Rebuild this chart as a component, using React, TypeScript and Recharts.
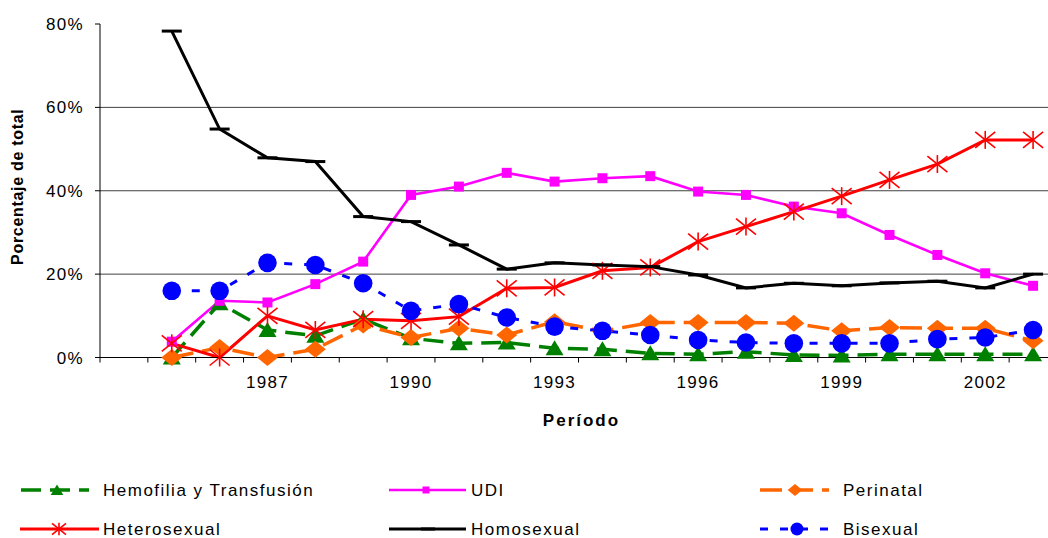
import React from 'react';
import { LineChart, Line, XAxis, YAxis, ReferenceLine } from 'recharts';

// first category on the axis is empty, data starts in 1985
const firstYear = 1984;
const years = [1985, 1986, 1987, 1988, 1989, 1990, 1991, 1992, 1993, 1994, 1995, 1996, 1997, 1998, 1999, 2000, 2001, 2002, 2003];
const labelYears = [1987, 1990, 1993, 1996, 1999, 2002];
const yTicks = [0, 20, 40, 60, 80];
const gridValues = [20, 40, 60];

const hemofilia = [0, 13.0, 6.6, 5.2, 9.2, 4.6, 3.4, 3.6, 2.2, 2.0, 1.0, 0.8, 1.4, 0.6, 0.5, 0.8, 0.8, 0.8, 0.8];
const udi = [3.8, 13.6, 13.2, 17.6, 23.0, 39.0, 41.0, 44.3, 42.2, 43.0, 43.5, 39.8, 39.0, 36.2, 34.6, 29.4, 24.6, 20.2, 17.2];
const perinatal = [0, 2.4, 0, 2.0, 7.8, 4.8, 7.0, 5.4, 8.6, 6.3, 8.4, 8.4, 8.4, 8.2, 6.4, 7.2, 7.0, 7.0, 4.0];
const heterosexual = [3.4, 0, 10.0, 6.6, 9.2, 8.8, 9.8, 16.6, 16.8, 20.8, 21.6, 27.8, 31.4, 35.0, 38.7, 42.6, 46.4, 52.2, 52.2];
const homosexual = [78.3, 54.8, 47.9, 47.0, 33.8, 32.6, 27.0, 21.2, 22.7, 22.2, 21.8, 19.8, 16.7, 17.8, 17.2, 17.9, 18.3, 16.7, 20.0];
const bisexual = [16.0, 16.0, 22.7, 22.2, 17.8, 11.2, 12.8, 9.6, 7.4, 6.4, 5.4, 4.2, 3.6, 3.4, 3.4, 3.4, 4.4, 4.8, 6.6];

const GREEN = '#008000';
const MAGENTA = '#FF00FF';
const ORANGE = '#FF6600';
const RED = '#FF0000';
const BLACK = '#000000';
const BLUE = '#0000FF';
const FONT = '"Liberation Sans", Arial, sans-serif';

// category centre on a 0..20 numeric axis, so ticks fall between years
const toPos = (y: number) => y - firstYear + 0.5;

const data = years.map((y, i) => ({
  pos: toPos(y),
  hemofilia: hemofilia[i],
  udi: udi[i],
  perinatal: perinatal[i],
  heterosexual: heterosexual[i],
  homosexual: homosexual[i],
  bisexual: bisexual[i],
}));

const catTicks = Array.from({ length: 21 }, (_, i) => i);

type Shape = (cx: number, cy: number, s: number, key?: any) => React.ReactElement;

const triangle: Shape = (cx, cy, s, key) => (
  <polygon key={key} points={`${cx},${cy - 8 * s} ${cx - 9 * s},${cy + 7 * s} ${cx + 9 * s},${cy + 7 * s}`} fill={GREEN} />
);
const square: Shape = (cx, cy, s, key) => (
  <rect key={key} x={cx - 5 * s} y={cy - 5 * s} width={10 * s} height={10 * s} fill={MAGENTA} />
);
const diamond: Shape = (cx, cy, s, key) => (
  <polygon key={key} points={`${cx},${cy - 8.5 * s} ${cx + 10.5 * s},${cy} ${cx},${cy + 8.5 * s} ${cx - 10.5 * s},${cy}`} fill={ORANGE} />
);
const asterisk: Shape = (cx, cy, s, key) => (
  <g key={key} stroke={RED} strokeWidth={1.6}>
    <line x1={cx} y1={cy - 9 * s} x2={cx} y2={cy + 9 * s} />
    <line x1={cx - 10 * s} y1={cy - 8 * s} x2={cx + 10 * s} y2={cy + 8 * s} />
    <line x1={cx - 10 * s} y1={cy + 8 * s} x2={cx + 10 * s} y2={cy - 8 * s} />
  </g>
);
const dash: Shape = (cx, cy, s, key) => (
  <rect key={key} x={cx - 10 * s} y={cy - 1.5} width={20 * s} height={3} fill={BLACK} />
);
const circle: Shape = (cx, cy, s, key) => <circle key={key} cx={cx} cy={cy} r={9.3 * s} fill={BLUE} />;

const dotOf = (shape: Shape) => (p: any) => {
  if (p.cx == null || p.cy == null) return <g key={p.key ?? p.index} />;
  return shape(p.cx, p.cy, 1, p.key ?? `d${p.index}`);
};

const series = [
  { key: 'hemofilia', name: 'Hemofilia y Transfusión', color: GREEN, width: 3.5, dashArray: '20 9', shape: triangle },
  { key: 'udi', name: 'UDI', color: MAGENTA, width: 2.6, dashArray: undefined, shape: square },
  { key: 'perinatal', name: 'Perinatal', color: ORANGE, width: 3.5, dashArray: '22 9', shape: diamond },
  { key: 'heterosexual', name: 'Heterosexual', color: RED, width: 3, dashArray: undefined, shape: asterisk },
  { key: 'homosexual', name: 'Homosexual', color: BLACK, width: 3, dashArray: undefined, shape: dash },
  { key: 'bisexual', name: 'Bisexual', color: BLUE, width: 3, dashArray: '8 12', shape: circle },
];

// legend layout: line start/end, marker x, text x, row y
const legendLayout = [
  { x1: 21, x2: 89, mx: 57, tx: 103, y: 490 },
  { x1: 389, x2: 466, mx: 426, tx: 471, y: 490 },
  { x1: 760, x2: 829, mx: 795, tx: 843, y: 490 },
  { x1: 20, x2: 99, mx: 59, tx: 103, y: 529 },
  { x1: 389, x2: 466, mx: 428, tx: 471, y: 529 },
  { x1: 760, x2: 836, mx: 797, tx: 843, y: 529 },
];

const tickStyle = { fill: '#000', fontSize: 17, letterSpacing: 1.3, fontFamily: FONT };

const YLabel = (props: any) => {
  const vb = props.viewBox || {};
  const x = 17;
  const y = vb.y + vb.height / 2 - 4;
  return (
    <text x={x} y={y} transform={`rotate(-90 ${x} ${y})`} textAnchor="middle" dominantBaseline="central"
      fontFamily={FONT} fontSize={16} fontWeight="bold" letterSpacing={0.7} fill="#000">
      Porcentaje de total
    </text>
  );
};

const Legend6 = () => (
  <svg width={1048} height={538} style={{ position: 'absolute', left: 0, top: 0, pointerEvents: 'none' }}>
    {series.map((s, i) => {
      const l = legendLayout[i];
      return (
        <g key={s.key}>
          <line x1={l.x1} x2={l.x2} y1={l.y} y2={l.y} stroke={s.color} strokeWidth={s.width} strokeDasharray={s.dashArray} />
          {s.shape(l.mx, l.y, 0.7)}
          <text x={l.tx} y={l.y} dominantBaseline="central" fontFamily={FONT} fontSize={17} letterSpacing={1.5} fill="#000">
            {s.name}
          </text>
        </g>
      );
    })}
  </svg>
);

export default function App() {
  return (
    <div style={{ position: 'fixed', left: 0, top: 0, width: 1048, height: 538, overflow: 'hidden', background: '#fff' }}>
      <LineChart
        width={1080}
        height={440}
        data={data}
        margin={{ top: 24, right: 23, left: 0, bottom: 10.5 }}
        style={{ fontFamily: FONT }}
      >
        <XAxis
          xAxisId="cat"
          dataKey="pos"
          type="number"
          domain={[0, 20]}
          allowDataOverflow
          ticks={catTicks}
          interval={0}
          height={8}
          tickSize={5}
          tickLine={{ stroke: '#000' }}
          axisLine={{ stroke: '#000', strokeWidth: 1 }}
          tickFormatter={() => ''}
        />
        <XAxis
          xAxisId="lbl"
          dataKey="pos"
          type="number"
          domain={[0, 20]}
          allowDataOverflow
          ticks={labelYears.map(toPos)}
          interval={0}
          height={64}
          tickSize={0}
          tickMargin={10}
          axisLine={false}
          tickLine={false}
          tick={tickStyle}
          tickFormatter={(v: number) => String(Math.floor(v) + firstYear)}
          label={{ value: 'Período', position: 'insideBottom', offset: 4, dx: 3, fill: '#000', fontSize: 17, fontWeight: 'bold', letterSpacing: 2, fontFamily: FONT }}
        />
        <YAxis
          xAxisId="cat"
          type="number"
          domain={[0, 80]}
          ticks={yTicks}
          interval={0}
          width={100}
          tickSize={5}
          tickMargin={11}
          tickLine={{ stroke: '#000' }}
          axisLine={{ stroke: '#000', strokeWidth: 1 }}
          tick={tickStyle}
          tickFormatter={(v: number) => `${v}%`}
          label={<YLabel />}
        />
        {gridValues.map((g) => (
          <ReferenceLine key={g} xAxisId="cat" y={g} stroke="#404040" strokeWidth={1} />
        ))}
        {series.map((s) => (
          <Line
            key={s.key}
            xAxisId="cat"
            dataKey={s.key}
            name={s.name}
            type="linear"
            stroke={s.color}
            strokeWidth={s.width}
            strokeDasharray={s.dashArray}
            dot={dotOf(s.shape)}
            activeDot={false}
            isAnimationActive={false}
          />
        ))}
      </LineChart>
      <Legend6 />
    </div>
  );
}
